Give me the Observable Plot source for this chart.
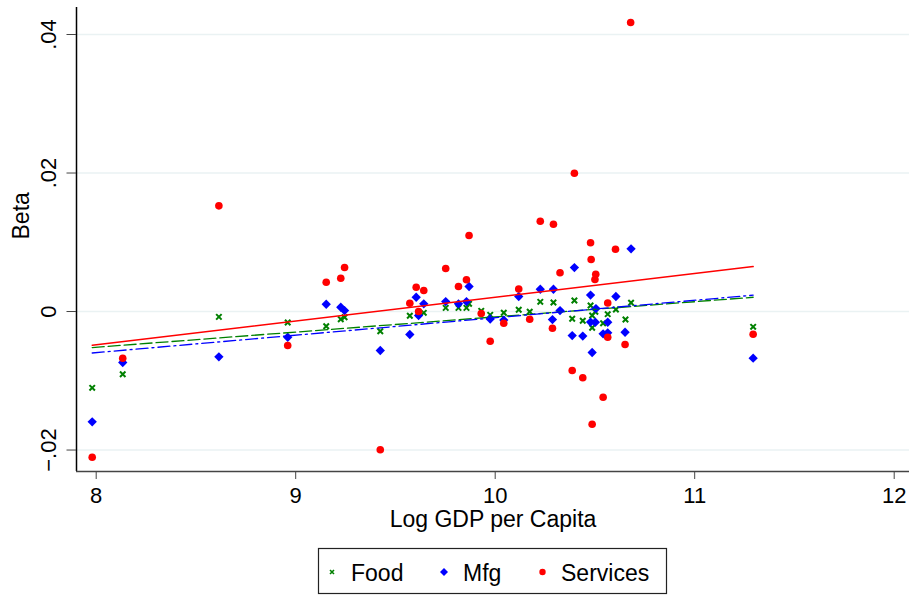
<!DOCTYPE html>
<html>
<head>
<meta charset="utf-8">
<script src="https://cdn.jsdelivr.net/npm/d3@7"></script>
<script src="https://cdn.jsdelivr.net/npm/@observablehq/plot@0.6"></script>
<style>
  body { margin: 0; background: #fff; }
  #wrap { width: 912px; font-family: "Liberation Sans", Arial, sans-serif; }
  #wrap svg { display: block; }
</style>
</head>
<body>
<div id="wrap"></div>
<script>
// ---- data ----
const foodX = [7.980, 8.133, 8.615, 8.960, 9.153, 9.226, 9.245, 9.424, 9.572, 9.642, 9.752, 9.816, 9.856, 9.869, 9.930, 9.975, 10.043, 10.118, 10.173, 10.226, 10.292, 10.397, 10.386, 10.439, 10.478, 10.486, 10.502, 10.486, 10.541, 10.564, 10.605, 10.653, 10.681, 11.293];
const foodY = [-0.01102, -0.00905, -0.00077, -0.00159, -0.00212, -0.00111, -0.00082, -0.00284, -0.00062, -0.00019, 0.00053, 0.00053, 0.00053, 0.00111, 0.00010, -0.00048, -0.00017, 0.00025, -0.00004, 0.00140, 0.00130, 0.00159, -0.00105, -0.00133, 0.00087, -0.00058, -0.00004, -0.00235, -0.00169, -0.00038, 0.00029, -0.00116, 0.00127, -0.00221];

const mfgX = [7.980, 8.133, 8.615, 8.960, 9.153, 9.226, 9.245, 9.424, 9.572, 9.604, 9.616, 9.642, 9.752, 9.816, 9.856, 9.869, 9.975, 10.043, 10.118, 10.226, 10.292, 10.287, 10.325, 10.397, 10.478, 10.505, 10.478, 10.502, 10.564, 10.605, 10.386, 10.439, 10.541, 10.564, 10.651, 10.486, 10.681, 11.293];
const mfgY = [-0.01593, -0.00736, -0.00654, -0.00371, 0.00105, 0.00062, 0.00014, -0.00563, -0.00332, 0.00206, -0.00058, 0.00111, 0.00144, 0.00111, 0.00144, 0.00361, -0.00108, -0.00123, 0.00217, 0.00322, 0.00322, -0.00116, 0.00014, 0.00635, 0.00238, 0.00043, -0.00152, -0.00155, -0.00155, 0.00217, -0.00347, -0.00354, -0.00322, -0.00308, -0.00299, -0.00592, 0.00905, -0.00674];

const servX = [7.980, 8.133, 8.615, 8.960, 9.153, 9.226, 9.245, 9.424, 9.572, 9.604, 9.642, 9.616, 9.752, 9.816, 9.856, 9.869, 9.930, 9.975, 10.043, 10.118, 10.173, 10.226, 10.292, 10.287, 10.325, 10.397, 10.386, 10.439, 10.478, 10.481, 10.504, 10.500, 10.486, 10.541, 10.564, 10.564, 10.603, 10.651, 10.679, 11.293];
const servY = [-0.02104, -0.00674, 0.01526, -0.00491, 0.00422, 0.00481, 0.00635, -0.01997, 0.00120, 0.00351, 0.00303, 0.00000, 0.00621, 0.00361, 0.00458, 0.01097, -0.00029, -0.00430, -0.00169, 0.00325, -0.00111, 0.01304, 0.01261, -0.00241, 0.00559, 0.01997, -0.00852, -0.00957, 0.00992, 0.00751, 0.00539, 0.00462, -0.01627, -0.01238, 0.00123, -0.00371, 0.00900, -0.00477, 0.04173, -0.00328];

const xTicks = [8, 9, 10, 11, 12];
const yTicks = [-0.02, 0, 0.02, 0.04];
const seriesNames = ["Food", "Mfg", "Services"];
const seriesColors = ["#008000", "#0000ff", "#ff0000"];
const xLabel = "Log GDP per Capita";
const yLabel = "Beta";

// ---- build tables ----
const toRows = (xs, ys) => xs.map((x, i) => ({x, y: ys[i]}));
const food = toRows(foodX, foodY);
const mfg = toRows(mfgX, mfgY);
const serv = toRows(servX, servY);

const xDomain = [7.9013, 12.0767];
const yDomain = [-0.0231, 0.0439];

const fmtY = d => d === 0 ? "0" : d3.format(".2f")(d).replace("0.", ".").replace("-", "\u2212");
const fmtX = d => String(d);

const chart = Plot.plot({
  width: 912,
  height: 546,
  marginLeft: 76,
  marginRight: 3,
  marginTop: 7,
  marginBottom: 75,
  style: {fontFamily: "'Liberation Sans', Arial, sans-serif", fontSize: "22px", background: "#fff", color: "#000"},
  x: {domain: xDomain},
  y: {domain: yDomain},
  marks: [
    Plot.ruleY(yTicks, {stroke: "#eaf2f3", strokeWidth: 1.6}),
    Plot.dot(food, {x: "x", y: "y", symbol: "times", stroke: seriesColors[0], strokeWidth: 2, r: 2.6}),
    Plot.dot(mfg, {x: "x", y: "y", symbol: "diamond2", fill: seriesColors[1], stroke: "none", r: 4.2}),
    Plot.dot(serv, {x: "x", y: "y", fill: seriesColors[2], stroke: "none", r: 3.8}),
    Plot.linearRegressionY(food, {x: "x", y: "y", stroke: seriesColors[0], strokeWidth: 1.3, strokeDasharray: "12,4", ci: 0}),
    Plot.linearRegressionY(mfg, {x: "x", y: "y", stroke: seriesColors[1], strokeWidth: 1.3, strokeDasharray: "12,4,2,4", ci: 0}),
    Plot.linearRegressionY(serv, {x: "x", y: "y", stroke: seriesColors[2], strokeWidth: 1.5, ci: 0}),
    Plot.ruleX([xDomain[0]], {stroke: "#000", strokeWidth: 1.5}),
    Plot.ruleY([yDomain[0]], {stroke: "#444", strokeWidth: 1.5}),
    Plot.axisX({ticks: xTicks, tickSize: 8, tickPadding: 8, tickFormat: fmtX, fontSize: 22, label: null, stroke: "#444"}),
    Plot.axisY({ticks: yTicks, tickSize: 9.5, tickPadding: 11, tickRotate: -90, tickFormat: fmtY, fontSize: 22, label: null, stroke: "#444"}),
    Plot.text([xLabel], {frameAnchor: "bottom", dy: 55, fontSize: 23, text: d => d}),
    Plot.text([yLabel], {frameAnchor: "left", dx: -55, rotate: -90, fontSize: 23, text: d => d})
  ]
});

const wrap = document.getElementById("wrap");
wrap.appendChild(chart);

// ---- legend below the plot ----
const leg = d3.select(wrap).append("svg")
  .attr("width", 912).attr("height", 49)
  .style("font-family", "'Liberation Sans', Arial, sans-serif");
leg.append("rect").attr("x", 318.5).attr("y", 2.5).attr("width", 348).attr("height", 45)
  .attr("fill", "#fff").attr("stroke", "#222").attr("stroke-width", 1.2);
const items = [
  {name: seriesNames[0], sx: 332, tx: 351},
  {name: seriesNames[1], sx: 444, tx: 463},
  {name: seriesNames[2], sx: 542.5, tx: 561}
];
const base = 34.7, sy = 26;
// Food symbol (x)
leg.append("path").attr("d", `M${items[0].sx-2},${sy-2}L${items[0].sx+2},${sy+2}M${items[0].sx-2},${sy+2}L${items[0].sx+2},${sy-2}`)
  .attr("stroke", seriesColors[0]).attr("stroke-width", 1.6);
// Mfg symbol (diamond)
leg.append("path").attr("d", `M${items[1].sx},${sy-4}L${items[1].sx+4},${sy}L${items[1].sx},${sy+4}L${items[1].sx-4},${sy}Z`)
  .attr("fill", seriesColors[1]);
// Services symbol (dot)
leg.append("circle").attr("cx", items[2].sx).attr("cy", sy).attr("r", 3.2).attr("fill", seriesColors[2]);
items.forEach(it => {
  leg.append("text").attr("x", it.tx).attr("y", base).attr("font-size", 23).attr("fill", "#000").text(it.name);
});
</script>
</body>
</html>
